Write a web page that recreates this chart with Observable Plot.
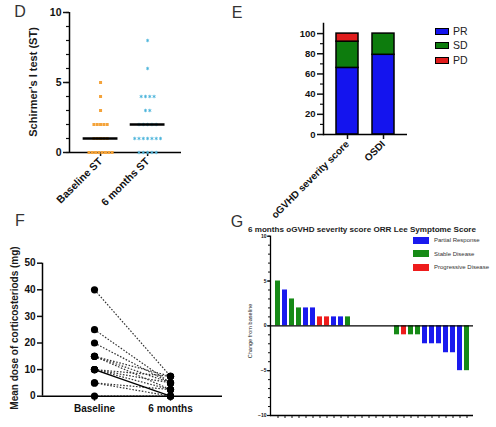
<!DOCTYPE html>
<html><head><meta charset="utf-8">
<script src="https://cdn.jsdelivr.net/npm/d3@7"></script>
<script src="https://cdn.jsdelivr.net/npm/@observablehq/plot@0.6"></script>
<style>
body{margin:0;background:#fff;font-family:"Liberation Sans",Arial,sans-serif}
#root{position:relative;width:496px;height:427px;overflow:hidden;background:#fff}
.panel{position:absolute}
.panel svg{overflow:visible}
.txt{position:absolute;white-space:nowrap;color:#1a1a1a;line-height:1}
.letter{font-size:16px;color:#333;transform:translate(-50%,-50%)}
.rot{transform:translate(-50%,-50%) rotate(-90deg)}
.ctr{transform:translate(-50%,-50%)}
.sw{position:absolute;box-sizing:border-box}
</style>
</head><body>
<div id="root"></div>
<script>
// ---------- DATA ----------
// Panel D
const dCategories = ["Baseline ST", "6 months ST"];
const dBaselineValues = [0,0,0,0,0,0,0,0,1,1,1,1,1,2,2,2,2,2,3,4,5];
const dSixMonthValues = [0,0,0,0,0,1,1,1,1,1,1,1,2,2,2,2,2,3,3,4,4,4,4,6,8];
const dYTicks = [0,5,10];
const dYMinorTicks = [0,1,2,3,4,5,6,7,8,9,10];
const dYLabel = "Schirmer's I test (ST)";

// Panel E
const eCategories = ["oGVHD severity score", "OSDI"];
const eResponses = ["PR", "SD", "PD"];
const eSeverityValues = [66, 26, 8];
const eOsdiValues = [79, 21, 0];
const eYTicks = [0,20,40,60,80,100];
const eYMinorTicks = [10,30,50,70,90];
const eColors = ["#1414ee", "#0d7c0d", "#e01c1c"];

// Panel F
const fTimepoints = ["Baseline", "6 months"];
const fBaselineDose = [40, 25, 20, 15, 15, 15, 10, 10, 10, 10, 5, 5, 0];
const fSixMonthDose = [7.5, 5, 5, 7.5, 5, 2.5, 7.5, 5, 2.5, 0, 2.5, 0, 0];
const fLineSolid  = [false,false,false,false,false,false,false,false,false,true,false,false,false];
const fYTicks = [0,10,20,30,40,50];
const fYLabel = "Mean dose of corticosteriods (mg)";

// Panel G
const gTitle = "6 months oGVHD severity score ORR Lee Symptome Score";
const gChanges = [5,4,3,2,2,2,1,1,1,1,1,0,0,0,0,0,0,-1,-1,-1,-1,-2,-2,-2,-3,-3,-5,-5];
const gResponses = ["SD","PR","SD","SD","PR","PR","PD","PD","PR","PR","SD",
                    "SD","SD","SD","SD","SD","SD",
                    "SD","PD","SD","SD","PR","PR","PR","PR","PR","PR","SD"];
const gResponseKeys = ["PR","SD","PD"];
const gResponseNames = ["Partial Response","Stable Disease","Progressive Disease"];
const gColors = ["#1a1aee", "#168a16", "#ee1c1c"];
const gYTicks = [-10,-5,0,5,10];
const gYMinorTicks = d3.range(-10, 11);
const gYLabel = "Change from baseline";

// ---------- HELPERS ----------
const root = document.getElementById("root");
const FONT = "'Liberation Sans', Arial, sans-serif";
function place(node, left, top) {
  const w = document.createElement("div");
  w.className = "panel"; w.style.left = left + "px"; w.style.top = top + "px";
  w.appendChild(node); root.appendChild(w);
}
function text(str, x, y, cls, style) {
  const t = document.createElement("div");
  t.className = "txt " + cls; t.textContent = str;
  t.style.left = x + "px"; t.style.top = y + "px";
  Object.assign(t.style, style || {});
  root.appendChild(t); return t;
}
function swatch(x, y, w, h, color, border) {
  const s = document.createElement("div");
  s.className = "sw";
  Object.assign(s.style, {left: x+"px", top: (y - h/2)+"px", width: w+"px", height: h+"px",
    background: color, border: border || "none"});
  root.appendChild(s);
}
// horizontal spreading of equal values around their group centre
function rowLayout(values, group, step) {
  const counts = d3.rollup(values, v => v.length, v => v);
  const seen = new Map();
  return values.map(v => {
    const n = counts.get(v), k = seen.get(v) || 0; seen.set(v, k + 1);
    return {group, value: v, x: group + (k - (n - 1) / 2) * step};
  });
}
const baseStyle = {fontFamily: FONT, background: "transparent", overflow: "visible", color: "#111"};

// ---------- PANEL D ----------
{
  const xDomain = [-0.66, 1.72];
  const basePts = rowLayout(dBaselineValues, 0, 3.3 / 47);
  const sixPts = rowLayout(dSixMonthValues, 1, 4.3 / 47);
  const medians = [
    {group: 0, median: d3.median(dBaselineValues)},
    {group: 1, median: d3.median(dSixMonthValues)}
  ];
  const p = Plot.plot({
    width: 200, height: 220, marginLeft: 69, marginRight: 19, marginTop: 12, marginBottom: 68,
    style: baseStyle,
    x: {domain: xDomain, label: null},
    y: {domain: [0, 10], label: null},
    marks: [
      Plot.axisY({ticks: dYMinorTicks, tickSize: 3, tickFormat: () => "", strokeWidth: 1.2, label: null}),
      Plot.axisY({ticks: dYTicks, tickSize: 6, tickPadding: 2, fontSize: 10.5, fontWeight: "bold", strokeWidth: 1.5, label: null}),
      Plot.axisX({ticks: [0, 1], tickFormat: i => dCategories[i], tickRotate: -45, tickSize: 4, tickPadding: 3,
        fontSize: 10.5, fontWeight: "bold", strokeWidth: 1.5, label: null}),
      Plot.ruleX([xDomain[0]], {stroke: "#000", strokeWidth: 1.5}),
      Plot.ruleY([0], {stroke: "#000", strokeWidth: 1.5}),
      Plot.dot(basePts, {x: "x", y: "value", symbol: "square", r: 1.7, fill: "#f4a33a"}),
      Plot.dot(sixPts, {x: "x", y: "value", symbol: "asterisk", r: 1.6, stroke: "#4ab3da", strokeWidth: 0.9}),
      Plot.ruleY(medians, {y: "median", x1: d => d.group - 0.37, x2: d => d.group + 0.37, stroke: "#000", strokeWidth: 2.6})
    ]
  });
  place(p, 0, 0);
  text(dYLabel, 33, 82, "rot", {fontSize: "11px", fontWeight: "bold"});
  text("D", 20, 12, "letter");
}

// ---------- PANEL E ----------
{
  const table = [];
  eResponses.forEach((r, i) => {
    table.push({cat: eCategories[0], resp: r, value: eSeverityValues[i]});
    table.push({cat: eCategories[1], resp: r, value: eOsdiValues[i]});
  });
  const p = Plot.plot({
    width: 170, height: 220, marginLeft: 73, marginRight: 13, marginTop: 23, marginBottom: 86,
    style: baseStyle,
    x: {type: "band", domain: eCategories, range: [79, 151], paddingInner: 0.39, paddingOuter: 0.195, label: null},
    y: {domain: [0, 110], label: null},
    color: {domain: eResponses, range: eColors},
    marks: [
      Plot.barY(table, {x: "cat", y: "value", fill: "resp", order: eResponses, stroke: "#000", strokeWidth: 1.5}),
      Plot.axisY({ticks: eYMinorTicks, tickSize: 3, tickFormat: () => "", strokeWidth: 1.2, label: null}),
      Plot.axisY({ticks: eYTicks, tickSize: 6, tickPadding: 2, fontSize: 9.5, fontWeight: "bold", strokeWidth: 1.5, label: null}),
      Plot.axisX({tickRotate: -45, tickSize: 5, tickPadding: 3, fontSize: 10, fontWeight: "bold", strokeWidth: 1.5, label: null}),
      Plot.frame({anchor: "left", stroke: "#000", strokeWidth: 1.5}),
      Plot.ruleY([0], {stroke: "#000", strokeWidth: 1.5})
    ]
  });
  place(p, 250, 0);
  const ys = [31, 45, 60];
  eResponses.forEach((r, i) => {
    swatch(435, ys[i], 14, 7, eColors[i], "1px solid #000");
    text(r, 453, ys[i], "", {fontSize: "10.5px", transform: "translateY(-50%)", color: "#222"});
  });
  text("E", 237, 13, "letter");
}

// ---------- PANEL F ----------
{
  const xDomain = [-0.684, 1.684];
  const pairs = fBaselineDose.map((b, i) => ({b, s: fSixMonthDose[i], solid: fLineSolid[i]}));
  const p = Plot.plot({
    width: 230, height: 207, marginLeft: 42, marginRight: 8, marginTop: 42.7, marginBottom: 31.3,
    style: baseStyle,
    x: {domain: xDomain, label: null},
    y: {domain: [0, 50], label: null},
    marks: [
      Plot.link(pairs.filter(d => !d.solid), {x1: () => 0, x2: () => 1, y1: "b", y2: "s",
        stroke: "#333", strokeWidth: 1.2, strokeDasharray: "1.6,1.6"}),
      Plot.link(pairs.filter(d => d.solid), {x1: () => 0, x2: () => 1, y1: "b", y2: "s",
        stroke: "#000", strokeWidth: 1.4}),
      Plot.axisY({ticks: fYTicks, tickSize: 5, tickPadding: 2, fontSize: 10, fontWeight: "bold", strokeWidth: 1.5, label: null}),
      Plot.axisX({ticks: [0, 1], tickFormat: i => fTimepoints[i], tickSize: 5, tickPadding: 4,
        fontSize: 10, fontWeight: "bold", strokeWidth: 1.5, label: null}),
      Plot.ruleX([xDomain[0]], {stroke: "#000", strokeWidth: 1.5}),
      Plot.ruleY([0], {stroke: "#000", strokeWidth: 1.5}),
      Plot.dot(fBaselineDose, {x: () => 0, y: d => d, r: 3.6, fill: "#000"}),
      Plot.dot(fSixMonthDose, {x: () => 1, y: d => d, r: 3.6, fill: "#000"})
    ]
  });
  place(p, 0, 220);
  text(fYLabel, 15, 328, "rot", {fontSize: "10px", fontWeight: "bold"});
  text("F", 20, 221, "letter");
}

// ---------- PANEL G ----------
{
  const table = gChanges.map((c, i) => ({idx: i, change: c, resp: gResponses[i]}));
  const p = Plot.plot({
    width: 266, height: 207, marginLeft: 40, marginRight: 23, marginTop: 15.7, marginBottom: 12,
    style: baseStyle,
    x: {type: "band", domain: d3.range(gChanges.length), range: [40, 243], paddingInner: 0.3, paddingOuter: 0.275, label: null},
    y: {domain: [-10, 10], label: null},
    color: {domain: gResponseKeys, range: gColors},
    marks: [
      Plot.barY(table, {x: "idx", y: "change", fill: "resp"}),
      Plot.axisY({ticks: gYMinorTicks, tickSize: 2, tickFormat: () => "", strokeWidth: 1, label: null}),
      Plot.axisY({ticks: gYTicks, tickSize: 3, tickPadding: 1, fontSize: 5, fontWeight: "bold", strokeWidth: 1.2, label: null}),
      Plot.axisX({tickSize: 3, tickFormat: () => "", strokeWidth: 1, label: null}),
      Plot.frame({anchor: "left", stroke: "#000", strokeWidth: 1.3}),
      Plot.ruleY([0], {stroke: "#000", strokeWidth: 1.3}),
      Plot.ruleY([-10], {stroke: "#000", strokeWidth: 1.3})
    ]
  });
  place(p, 230, 220);
  text(gTitle, 362, 229.5, "ctr", {fontSize: "8.1px", fontWeight: "bold", color: "#222"});
  text(gYLabel, 251, 331, "rot", {fontSize: "5.6px", color: "#222"});
  const ys = [240, 253.5, 267];
  gResponseNames.forEach((name, i) => {
    swatch(413, ys[i], 16, 7, gColors[i]);
    text(name, 434, ys[i], "", {fontSize: "6px", transform: "translateY(-50%)", color: "#333"});
  });
  text("G", 237, 222, "letter");
}
</script>
</body></html>
